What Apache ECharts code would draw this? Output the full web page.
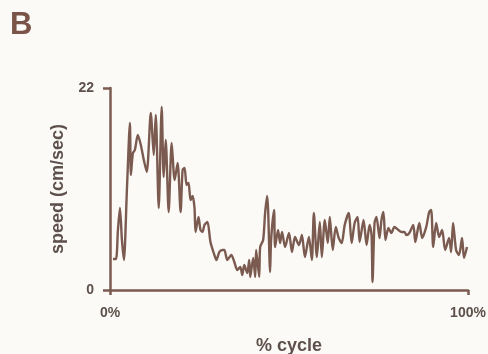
<!DOCTYPE html>
<html>
<head>
<meta charset="utf-8">
<script src="https://cdn.jsdelivr.net/npm/echarts@6/dist/echarts.min.js"></script>
<style>
html,body{margin:0;padding:0;background:#fbfaf6;}
#c{width:488px;height:354px;}
</style>
</head>
<body>
<div id="c"></div>
<script>
var cyclePct = [0.83,1.67,2.22,2.78,3.33,3.89,4.72,5.56,5.83,6.39,6.94,7.78,8.61,9.44,10.28,11.39,12.22,12.78,13.61,14.44,15.00,15.56,16.39,17.22,18.06,18.89,19.72,20.28,20.83,21.39,21.94,22.50,23.06,23.61,23.89,24.72,25.28,25.83,26.39,27.22,28.06,29.17,29.72,30.56,31.39,31.94,32.78,33.89,34.72,35.56,36.39,36.94,37.50,38.33,38.89,39.17,40.00,40.56,40.83,41.67,41.94,42.78,43.33,43.89,44.17,44.72,45.00,45.83,46.11,46.94,47.50,48.06,48.89,50.00,50.83,51.67,52.78,53.61,54.44,55.56,56.39,56.94,57.78,58.61,59.17,60.00,60.83,61.39,62.22,63.06,63.89,64.72,65.56,66.67,67.50,68.33,69.17,69.72,70.83,71.67,72.50,73.06,73.33,73.89,74.44,75.28,75.83,76.39,76.94,77.78,78.61,79.44,80.56,81.39,82.22,82.78,83.61,84.72,85.28,86.39,87.22,88.33,89.17,89.72,90.28,91.11,91.94,92.78,93.61,94.72,95.28,95.83,96.67,97.50,98.33,98.89,99.72];
var speed = [3.38,3.38,6.54,8.93,5.45,3.27,10.89,18.19,12.53,14.92,15.25,16.88,15.80,14.16,12.85,19.28,14.71,19.06,8.93,19.93,12.31,16.34,8.50,16.01,11.98,13.83,8.50,13.07,13.29,11.44,11.66,9.80,10.24,8.93,6.32,7.95,6.54,6.32,7.08,7.41,5.23,3.81,3.27,4.14,4.36,4.36,3.27,3.81,3.05,2.18,2.51,1.63,2.72,1.85,3.27,1.42,3.49,1.42,4.36,1.42,4.68,5.45,8.39,10.24,8.71,1.96,5.45,8.71,4.68,6.54,5.12,6.32,4.68,6.21,4.14,5.77,4.90,5.99,3.59,5.77,3.27,8.39,3.59,7.41,3.59,7.63,5.12,7.95,4.36,6.86,5.66,5.12,7.08,8.39,5.12,7.30,7.95,5.23,7.63,4.90,7.08,5.99,0.87,7.30,7.95,5.66,7.63,8.50,5.45,6.75,6.21,6.86,6.54,6.32,6.32,5.99,6.21,7.08,5.23,7.30,5.66,6.86,8.50,8.71,4.68,7.30,5.77,6.54,4.36,5.66,4.14,7.30,4.36,3.81,5.66,3.49,4.68];
var yTicks = [0, 22];
var xTicks = [0, 100];
var panelLabel = 'B';
var yTitle = 'speed (cm/sec)';
var xTitle = '% cycle';

var brown = '#7b5a50';
var labelCol = '#5e504b';
var font = '"Liberation Sans", Arial, sans-serif';
var data = cyclePct.map(function(x, i){ return [x, speed[i]]; });

var chart = echarts.init(document.getElementById('c'), null, {renderer:'canvas'});
chart.setOption({
  backgroundColor: '#fbfaf6',
  animation: false,
  graphic: [{
    type: 'text', left: 10, top: 10,
    style: { text: panelLabel, font: 'bold 31px ' + font, fill: '#7a5448' }
  }],
  grid: { left: 110, right: 20, top: 88, bottom: 64, containLabel: false, outerBoundsMode: 'none' },
  xAxis: {
    type: 'value', min: xTicks[0], max: xTicks[1], interval: xTicks[1] - xTicks[0],
    name: xTitle, nameLocation: 'middle', nameGap: 47,
    nameTextStyle: { color: labelCol, fontSize: 18, fontWeight: 'bold', fontFamily: 'Liberation Sans' },
    axisLine: { lineStyle: { color: brown, width: 2.5 } },
    axisTick: { show: true, length: 5, lineStyle: { color: brown, width: 2.5 } },
    axisLabel: { color: labelCol, fontSize: 14, fontWeight: 'bold', fontFamily: 'Liberation Sans', margin: 16, formatter: '{value}%' },
    splitLine: { show: false }
  },
  yAxis: {
    type: 'value', min: yTicks[0], max: yTicks[1], interval: yTicks[1] - yTicks[0],
    name: yTitle, nameLocation: 'middle', nameGap: 36, nameRotate: 90,
    nameTextStyle: { color: labelCol, fontSize: 18, fontWeight: 'bold', fontFamily: 'Liberation Sans' },
    axisLine: { show: true, lineStyle: { color: brown, width: 2.5 } },
    axisTick: { show: true, length: 7, lineStyle: { color: brown, width: 2.5 } },
    axisLabel: { color: labelCol, fontSize: 14, fontWeight: 'bold', fontFamily: 'Liberation Sans', margin: 16 },
    splitLine: { show: false }
  },
  series: [{
    type: 'line', data: data, showSymbol: false, symbol: 'none',
    lineStyle: { color: brown, width: 2.4 }, smooth: 0.25
  }]
});
</script>
</body>
</html>
